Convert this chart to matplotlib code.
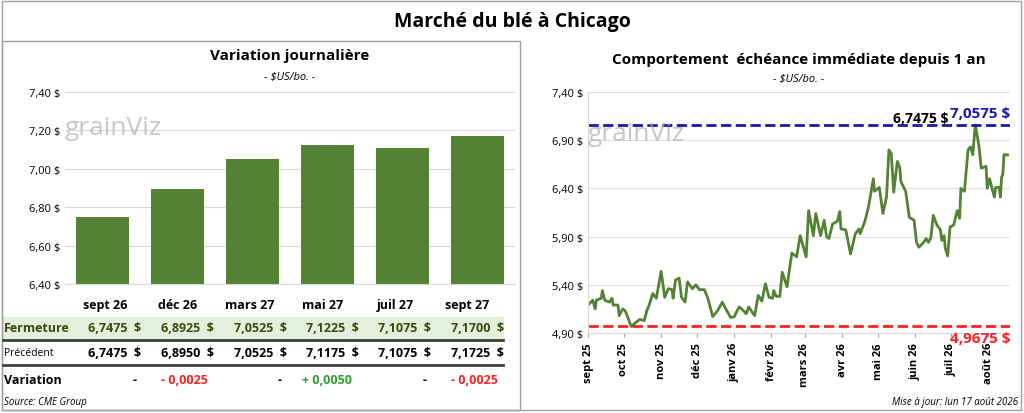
import numpy as np
import matplotlib
matplotlib.use("Agg")
import matplotlib.pyplot as plt
from matplotlib.patches import Rectangle
import datetime as dt

plt.rcParams['font.family'] = ['Open Sans', 'DejaVu Sans']

# --- data ---
contracts = ['sept 26', 'déc 26', 'mars 27', 'mai 27', 'juil 27', 'sept 27']
closing = [6.7475, 6.8925, 7.0525, 7.1225, 7.1075, 7.1700]
previous = [6.7475, 6.8950, 7.0525, 7.1175, 7.1075, 7.1725]

start_date = dt.date(2025, 9, 1)
day_offsets = [0, 4, 6, 7, 11, 12, 14, 18, 20, 21, 25, 26, 29, 31, 33, 36, 39, 43, 47, 49,
               51, 54, 57, 61, 64, 67, 70, 71, 73, 76, 78, 81, 83, 87, 90, 93, 97, 100, 104, 108,
               112, 115, 119, 122, 126, 129, 132, 134, 139, 142, 145, 148, 151, 154, 155, 157, 160, 162, 166, 170,
               174, 177, 182, 184, 188, 190, 194, 197, 199, 201, 204, 208, 210, 211, 215, 219, 223, 226, 227, 231,
               234, 238, 239, 243, 246, 249, 251, 253, 255, 258, 260, 261, 265, 268, 272, 274, 276, 280, 282, 284,
               286, 288, 291, 294, 295, 297, 298, 300, 302, 305, 308, 310, 311, 314, 317, 319, 321, 323, 326, 328,
               332, 333, 335, 337, 339, 340, 343, 344, 345, 346, 347, 350]
prices = [5.19, 5.24, 5.15, 5.24, 5.26, 5.34, 5.24, 5.22, 5.26, 5.19, 5.19, 5.08, 5.15, 5.13, 5.07, 4.9675, 5.00, 5.04, 5.03, 5.13,
          5.19, 5.31, 5.26, 5.54, 5.27, 5.36, 5.35, 5.26, 5.45, 5.47, 5.27, 5.22, 5.43, 5.36, 5.40, 5.35, 5.35, 5.26, 5.07, 5.13,
          5.22, 5.15, 5.06, 5.07, 5.17, 5.14, 5.10, 5.17, 5.08, 5.29, 5.23, 5.41, 5.27, 5.26, 5.34, 5.28, 5.28, 5.53, 5.38, 5.73,
          5.69, 5.91, 5.69, 6.17, 5.91, 6.14, 5.91, 6.07, 5.90, 5.88, 6.03, 6.06, 6.16, 5.98, 5.97, 5.72, 5.93, 5.98, 5.93, 6.06,
          6.21, 6.50, 6.37, 6.41, 6.14, 6.31, 6.80, 6.76, 6.36, 6.68, 6.62, 6.47, 6.37, 6.10, 6.07, 5.84, 5.79, 5.84, 5.88, 5.84,
          5.89, 6.12, 6.02, 5.97, 5.86, 5.91, 5.78, 5.70, 6.00, 6.02, 6.17, 6.09, 6.40, 6.37, 6.80, 6.83, 6.75, 7.0575, 6.85, 6.61,
          6.63, 6.40, 6.50, 6.40, 6.31, 6.41, 6.41, 6.31, 6.52, 6.54, 6.75, 6.7475]
year_high = 7.0575
year_low = 4.9675
month_labels = ['sept 25', 'oct 25', 'nov 25', 'déc 25', 'janv 26', 'févr 26', 'mars 26',
                'avr 26', 'mai 26', 'juin 26', 'juil 26', 'août 26']

GREEN = '#548235'
W, H = 1024, 414


def fx(px):
    return px / W


def fy(py):
    return 1 - py / H


def fmt(v, n=2):
    return f"{v:.{n}f}".replace('.', ',')


fig = plt.figure(figsize=(W / 100, H / 100), dpi=100)
fig.patches.append(Rectangle((fx(2), fy(411)), fx(1019), fy(2) - fy(411),
                             transform=fig.transFigure, fill=False, ec='#a0a0a0', lw=1))
fig.patches.append(Rectangle((fx(2), fy(411)), fx(518), fy(42) - fy(411),
                             transform=fig.transFigure, fill=False, ec='#a0a0a0', lw=1))
fig.text(0.5, fy(22), 'Marché du blé à Chicago', ha='center', va='center', fontsize=14, fontweight='bold')

# --- left: bars ---
ax = fig.add_axes([fx(65), fy(285), fx(450), fy(93) - fy(285)])
x = np.arange(len(contracts))
ax.bar(x, closing, width=0.7, color=GREEN)
ax.set_ylim(6.40, 7.40)
ax.set_xlim(-0.5, len(contracts) - 0.5)
ax.set_yticks(np.arange(6.40, 7.41, 0.2))
ax.set_yticklabels([fmt(v) + ' $' for v in np.arange(6.40, 7.41, 0.2)], fontsize=8)
ax.set_xticks([])
ax.grid(axis='y', color='#d9d9d9', lw=0.8)
ax.set_axisbelow(True)
for s in ['top', 'right', 'left']:
    ax.spines[s].set_visible(False)
ax.spines['bottom'].set_color('#d9d9d9')
ax.tick_params(axis='y', length=0)
ax.text(0.5, 1.17, 'Variation journalière', transform=ax.transAxes, ha='center', fontsize=11, fontweight='bold')
ax.text(0.5, 1.07, '- $US/bo. -', transform=ax.transAxes, ha='center', fontsize=8, style='italic')
ax.text(0.0, 0.78, 'grainViz', transform=ax.transAxes, fontsize=19, color='#b0b0b0', alpha=0.7)

# table
col_x = [fx(105 + 72.5 * i) for i in range(len(contracts))]
fig.patches.append(Rectangle((fx(3), fy(340)), fx(500), fy(318) - fy(340),
                             transform=fig.transFigure, color='#e2efda', zorder=0))
fig.add_artist(plt.Line2D([fx(3), fx(503)], [fy(341), fy(341)], color='#404040', lw=2))
fig.add_artist(plt.Line2D([fx(3), fx(503)], [fy(366), fy(366)], color='#404040', lw=2))
for i, c in enumerate(contracts):
    fig.text(col_x[i], fy(306), c, ha='center', va='center', fontsize=9, fontweight='bold')
    fig.text(col_x[i] + fx(10), fy(329), fmt(closing[i], 4) + '  $', ha='center', va='center',
             fontsize=9, fontweight='bold', color='#3a4a10')
    fig.text(col_x[i] + fx(10), fy(354), fmt(previous[i], 4) + '  $', ha='center', va='center',
             fontsize=9, fontweight='bold')
    d = closing[i] - previous[i]
    if abs(d) < 1e-9:
        fig.text(col_x[i] + fx(30), fy(381), '-', ha='center', va='center', fontsize=9, fontweight='bold')
    else:
        sign = '+' if d > 0 else '-'
        fig.text(col_x[i] + fx(30), fy(381), f"{sign} {fmt(abs(d), 4)}", ha='right', va='center',
                 fontsize=9, fontweight='bold', color='#2e9e2e' if d > 0 else '#ff2020')
fig.text(fx(4), fy(329), 'Fermeture', va='center', fontsize=9, fontweight='bold', color='#3a4a10')
fig.text(fx(4), fy(354), 'Précédent', va='center', fontsize=7.5)
fig.text(fx(4), fy(381), 'Variation', va='center', fontsize=9, fontweight='bold')
fig.text(fx(4), fy(403), 'Source: CME Group', va='center', fontsize=7, style='italic')

# --- right: line ---
dates = [start_date + dt.timedelta(days=d) for d in day_offsets]
ax2 = fig.add_axes([fx(588), fy(334), fx(422), fy(93) - fy(334)])
ax2.plot(dates, prices, color=GREEN, lw=2)
ax2.axhline(year_high, color='#1a1aaa', ls='--', lw=2)
ax2.axhline(year_low, color='#ff2020', ls='--', lw=2)
ax2.set_ylim(4.90, 7.40)
ax2.set_xlim(dates[0], dates[-1] + dt.timedelta(days=2))
yt = np.arange(4.90, 7.41, 0.5)
ax2.set_yticks(yt)
ax2.set_yticklabels([fmt(v) + ' $' for v in yt], fontsize=8)
month_dates = [dt.date(2025 + (8 + i) // 12, (8 + i) % 12 + 1, 1) for i in range(len(month_labels))]
ax2.set_xticks(month_dates)
ax2.set_xticklabels(month_labels, rotation=90, fontsize=8, fontweight='bold')
ax2.grid(axis='y', color='#e0e0e0', lw=0.8)
for s in ['top', 'right']:
    ax2.spines[s].set_visible(False)
ax2.spines['left'].set_color('#d9d9d9')
ax2.spines['bottom'].set_color('#d9d9d9')
ax2.tick_params(axis='y', length=0)
ax2.tick_params(axis='x', length=3, color='#a0a0a0')
ax2.text(0.5, 1.12, 'Comportement  échéance immédiate depuis 1 an', transform=ax2.transAxes,
         ha='center', fontsize=11, fontweight='bold')
ax2.text(0.5, 1.045, '- $US/bo. -', transform=ax2.transAxes, ha='center', fontsize=8, style='italic')
ax2.text(0.0, 0.80, 'grainViz', transform=ax2.transAxes, fontsize=19, color='#b0b0b0', alpha=0.7)
ax2.text(1.0, year_high + 0.05, fmt(year_high, 4) + ' $', transform=ax2.get_yaxis_transform(),
         ha='right', va='bottom', fontsize=11, fontweight='bold', color='#1a1aaa')
ax2.text(0.855, year_high + 0.0, fmt(prices[-1], 4) + ' $', transform=ax2.get_yaxis_transform(),
         ha='right', va='bottom', fontsize=10, fontweight='bold', color='black')
ax2.text(1.0, year_low - 0.05, fmt(year_low, 4) + ' $', transform=ax2.get_yaxis_transform(),
         ha='right', va='top', fontsize=11, fontweight='bold', color='#ff2020')
fig.text(fx(1018), fy(403), 'Mise à jour: lun 17 août 2026', ha='right', va='center', fontsize=7, style='italic')

fig.savefig('out.png', dpi=100)
